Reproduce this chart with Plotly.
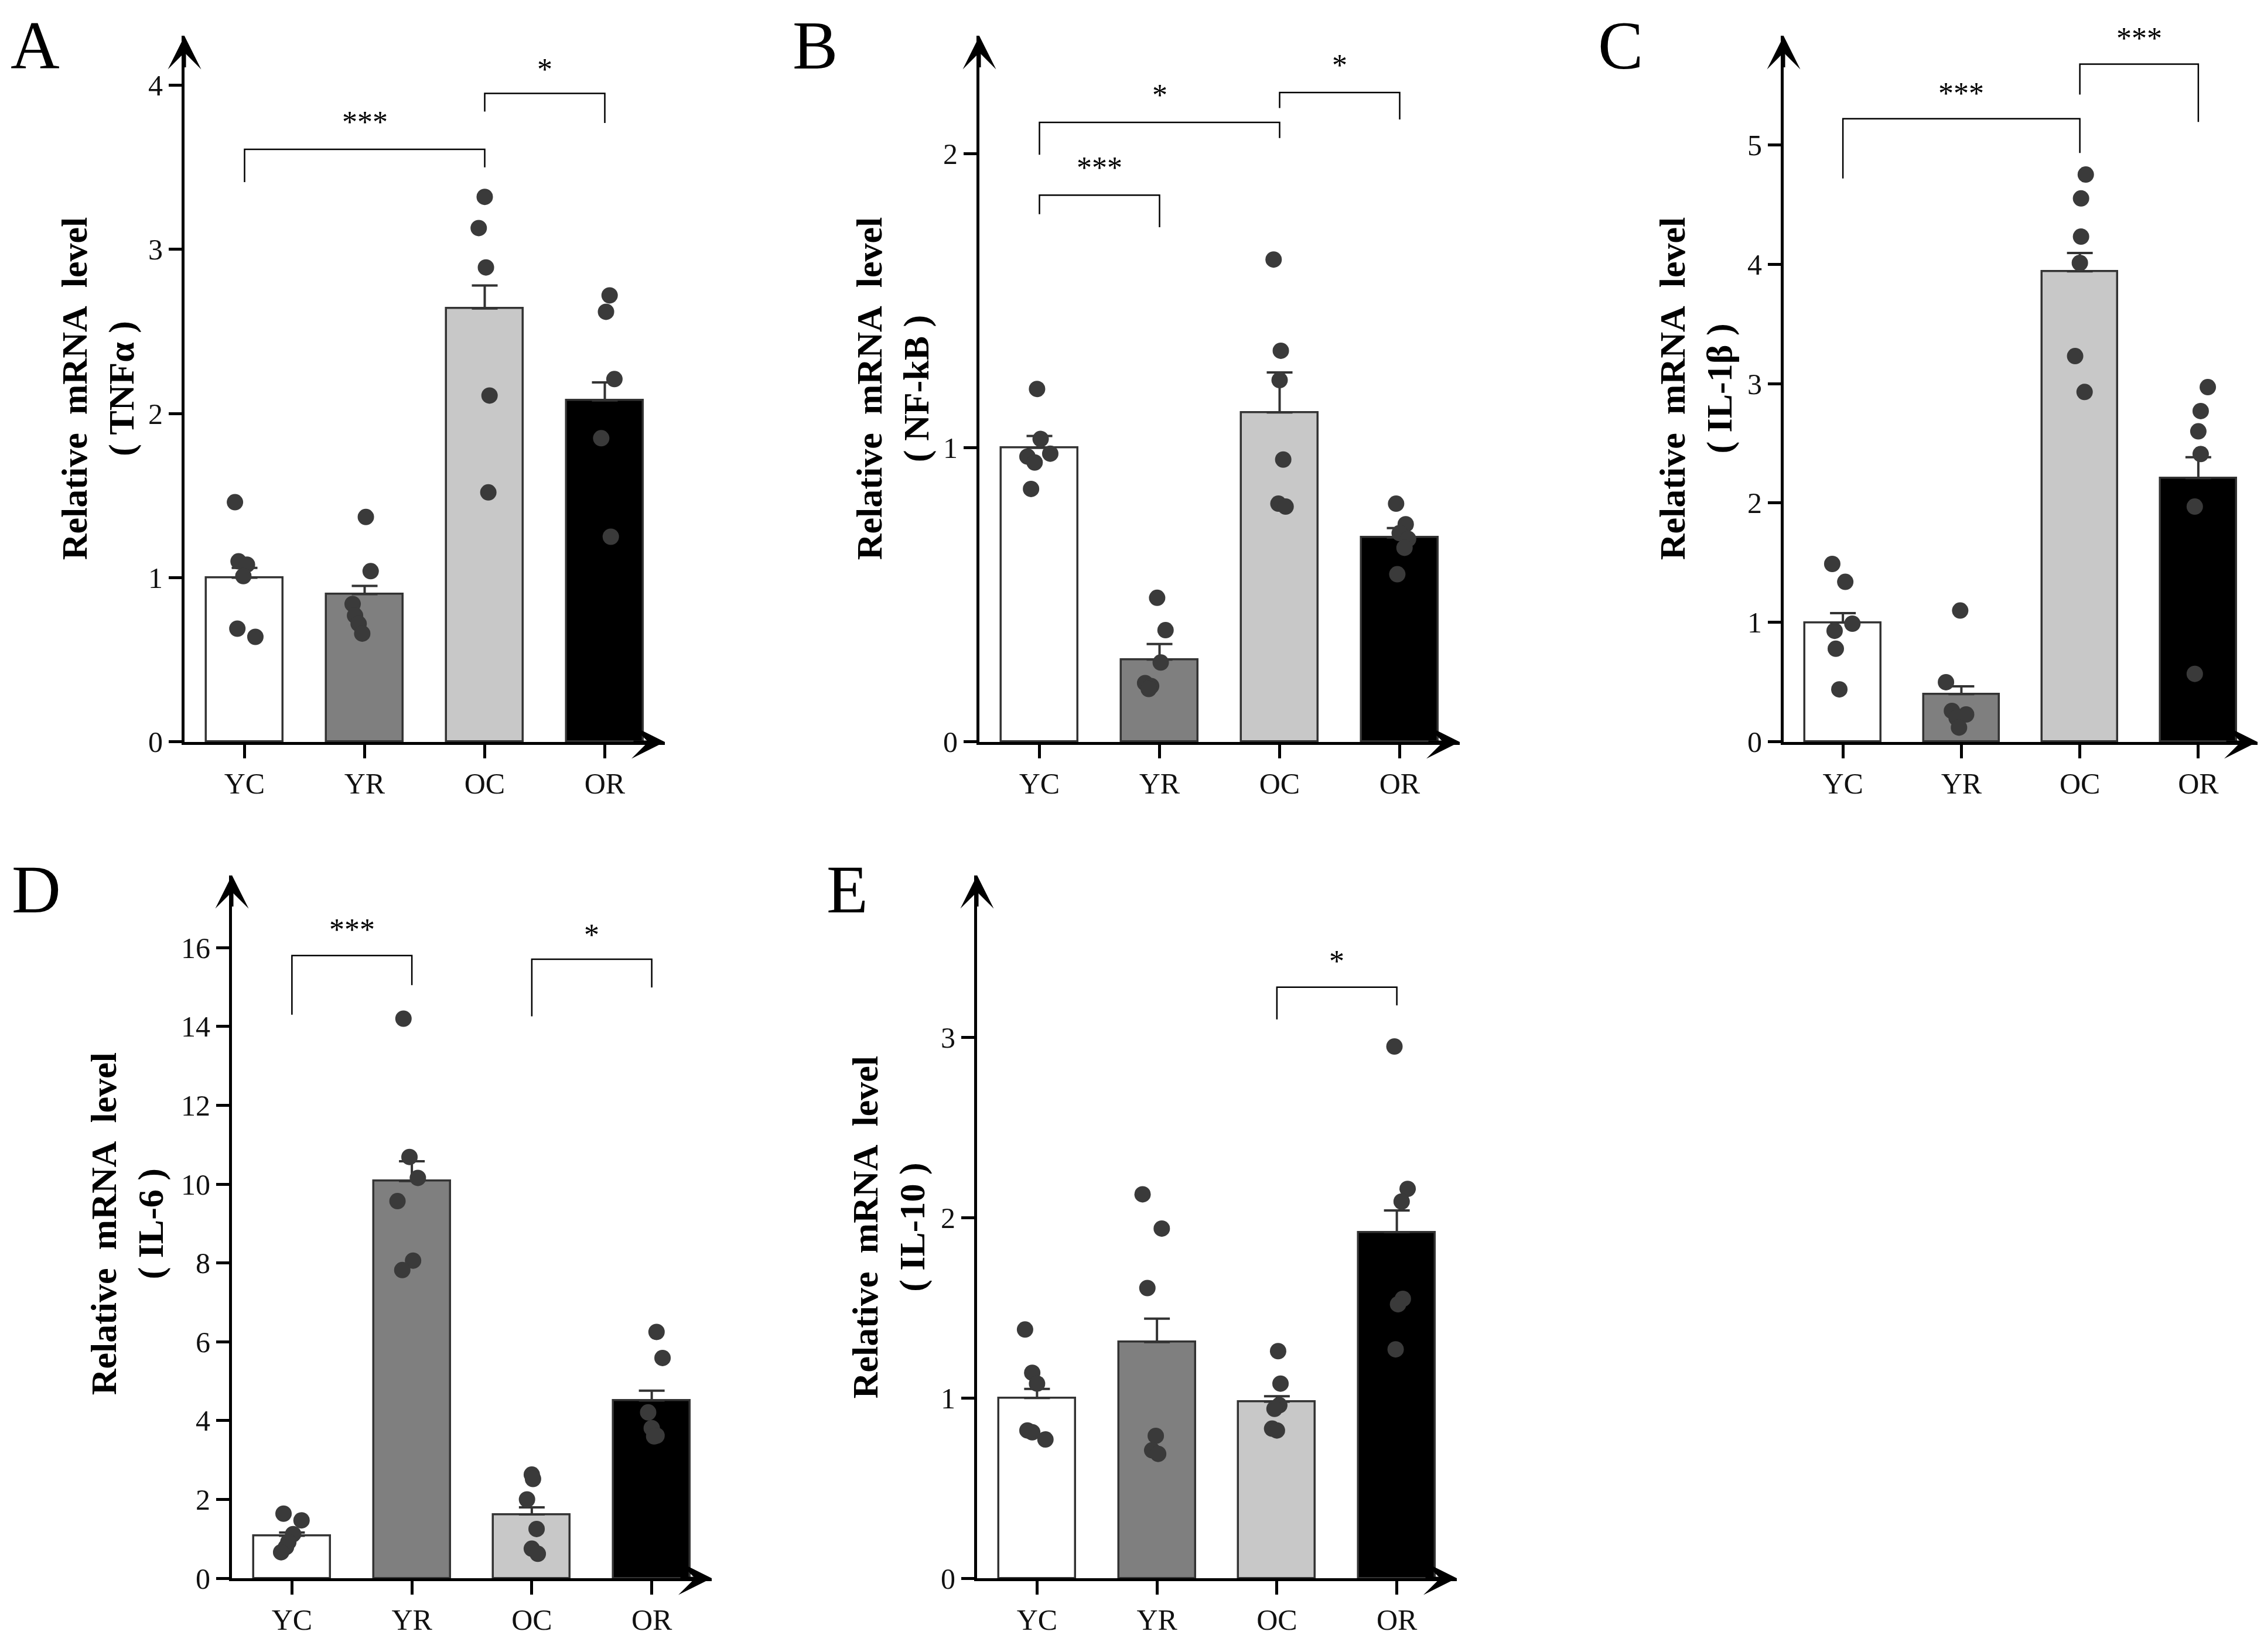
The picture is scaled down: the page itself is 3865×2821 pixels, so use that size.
import plotly.graph_objects as go

W, H = 3865, 2821

groups = ["YC", "YR", "OC", "OR"]
bar_colors = ["#ffffff", "#7f7f7f", "#c8c8c8", "#000000"]

# ---- panel A : TNFa
a_mean = [1.00, 0.90, 2.64, 2.08]
a_sem = [0.06, 0.05, 0.14, 0.11]
a_pts = [[1.46, 1.10, 1.08, 1.01, 0.69, 0.64],
         [1.37, 1.04, 0.84, 0.77, 0.72, 0.66],
         [3.32, 3.13, 2.89, 2.11, 1.52],
         [2.72, 2.62, 2.21, 1.85, 1.25]]
a_jit = [[-0.08, -0.05, 0.02, -0.01, -0.06, 0.09],
         [0.01, 0.05, -0.10, -0.08, -0.05, -0.02],
         [0.00, -0.05, 0.01, 0.04, 0.03],
         [0.04, 0.01, 0.08, -0.03, 0.05]]
a_sig = [(0, 2, 3.61, 3.41, 3.50, "***", 3.77),
         (2, 3, 3.95, 3.84, 3.77, "*", 4.09)]

# ---- panel B : NF-kB
b_mean = [1.00, 0.28, 1.12, 0.695]
b_sem = [0.04, 0.053, 0.136, 0.032]
b_pts = [[1.20, 1.03, 0.98, 0.97, 0.95, 0.86],
         [0.49, 0.38, 0.27, 0.20, 0.19, 0.18],
         [1.64, 1.33, 1.23, 0.96, 0.81, 0.80],
         [0.81, 0.74, 0.71, 0.69, 0.66, 0.57]]
b_jit = [[-0.02, 0.01, 0.09, -0.10, -0.04, -0.07],
         [-0.02, 0.05, 0.01, -0.12, -0.07, -0.09],
         [-0.05, 0.01, 0.00, 0.03, -0.01, 0.05],
         [-0.03, 0.05, 0.00, 0.07, 0.04, -0.02]]
b_sig = [(0, 2, 2.106, 1.996, 2.053, "*", 2.194),
         (2, 3, 2.208, 2.155, 2.116, "*", 2.296),
         (0, 1, 1.859, 1.794, 1.750, "***", 1.947)]

# ---- panel C : IL-1b
c_mean = [1.00, 0.40, 3.94, 2.21]
c_sem = [0.078, 0.065, 0.153, 0.174]
c_pts = [[1.49, 1.34, 0.99, 0.93, 0.78, 0.44],
         [1.10, 0.50, 0.26, 0.23, 0.20, 0.12],
         [4.75, 4.55, 4.23, 4.01, 3.23, 2.93],
         [2.97, 2.77, 2.60, 2.41, 1.97, 0.57]]
c_jit = [[-0.09, 0.02, 0.08, -0.07, -0.06, -0.03],
         [-0.01, -0.13, -0.08, 0.04, -0.04, -0.02],
         [0.05, 0.01, 0.01, 0.00, -0.04, 0.04],
         [0.08, 0.02, 0.00, 0.02, -0.03, -0.03]]
c_sig = [(0, 2, 5.217, 4.717, 4.93, "***", 5.42),
         (2, 3, 5.674, 5.42, 5.19, "***", 5.878)]

# ---- panel D : IL-6
d_mean = [1.08, 10.08, 1.62, 4.51]
d_sem = [0.08, 0.50, 0.18, 0.25]
d_pts = [[1.64, 1.47, 1.12, 0.92, 0.79, 0.66],
         [14.2, 10.69, 10.16, 9.57, 8.06, 7.82],
         [2.63, 2.52, 2.00, 1.25, 0.75, 0.62],
         [6.25, 5.59, 4.21, 3.81, 3.62, 3.60]]
d_jit = [[-0.07, 0.08, 0.01, -0.03, -0.05, -0.09],
         [-0.07, -0.02, 0.05, -0.12, 0.01, -0.08],
         [0.00, 0.01, -0.04, 0.04, 0.00, 0.05],
         [0.04, 0.09, -0.03, 0.00, 0.04, 0.02]]
d_sig = [(0, 1, 15.80, 14.30, 15.05, "***", 16.43),
         (2, 3, 15.71, 14.26, 14.99, "*", 16.30)]

# ---- panel E : IL-10
e_mean = [1.00, 1.31, 0.98, 1.92]
e_sem = [0.05, 0.13, 0.03, 0.12]
e_pts = [[1.38, 1.14, 1.08, 0.82, 0.81, 0.77],
         [2.13, 1.94, 1.61, 0.79, 0.71, 0.69],
         [1.26, 1.08, 0.96, 0.94, 0.83, 0.82],
         [2.95, 2.16, 2.09, 1.55, 1.52, 1.27]]
e_jit = [[-0.10, -0.04, 0.00, -0.08, -0.04, 0.07],
         [-0.12, 0.04, -0.08, -0.01, -0.04, 0.01],
         [0.01, 0.03, 0.02, -0.02, -0.04, 0.00],
         [-0.02, 0.09, 0.04, 0.05, 0.01, -0.01]]
e_sig = [(2, 3, 3.279, 3.10, 3.178, "*", 3.417)]

panels = [
    dict(letter="A", gene="TNFα", mean=a_mean, sem=a_sem, pts=a_pts, jit=a_jit, sig=a_sig, ymax=4.30, dtick=1),
    dict(letter="B", gene="NF-kB", mean=b_mean, sem=b_sem, pts=b_pts, jit=b_jit, sig=b_sig, ymax=2.40, dtick=1),
    dict(letter="C", gene="IL-1β", mean=c_mean, sem=c_sem, pts=c_pts, jit=c_jit, sig=c_sig, ymax=5.91, dtick=1),
    dict(letter="D", gene="IL-6", mean=d_mean, sem=d_sem, pts=d_pts, jit=d_jit, sig=d_sig, ymax=17.84, dtick=2),
    dict(letter="E", gene="IL-10", mean=e_mean, sem=e_sem, pts=e_pts, jit=e_jit, sig=e_sig, ymax=3.90, dtick=1),
]

# layout boxes in pixels: x from y-axis to arrow tip, y from zero line to arrow tip
boxes = [
    dict(x=(307, 1127), y=(1272, 54), title=(160, 663), letter=(52, 4)),
    dict(x=(1664, 2484), y=(1272, 54), title=(1517, 663), letter=(1383, 4)),
    dict(x=(3037, 3846), y=(1272, 54), title=(2888, 663), letter=(2758, 4)),
    dict(x=(388, 1207), y=(2715, 1502), title=(210, 2104), letter=(54, 1460)),
    dict(x=(1660, 2479), y=(2715, 1502), title=(1510, 2110), letter=(1438, 1460)),
]

SERIF = "Liberation Serif, Times New Roman, serif"
EDGE = "#333333"
DOT = "#3a3a3a"


def px(x):
    return x / W


def py(y):
    return 1 - y / H


fig = go.Figure()
annotations = []

for k, (p, b) in enumerate(zip(panels, boxes), start=1):
    xa = "x" if k == 1 else f"x{k}"
    ya = "y" if k == 1 else f"y{k}"

    fig.add_trace(go.Bar(
        x=list(range(4)), y=p["mean"], width=0.64,
        marker=dict(color=bar_colors, line=dict(color=EDGE, width=3.5)),
        error_y=dict(type="data", array=p["sem"], arrayminus=[0] * 4, symmetric=False,
                     color=EDGE, thickness=4, width=22),
        xaxis=xa, yaxis=ya, showlegend=False, hoverinfo="skip"))

    for i, (vals, jit) in enumerate(zip(p["pts"], p["jit"])):
        fig.add_trace(go.Scatter(
            x=[i + j for j in jit], y=vals, mode="markers",
            marker=dict(color=DOT, size=28, line=dict(width=0)),
            xaxis=xa, yaxis=ya, showlegend=False, hoverinfo="skip", cliponaxis=False))

    for (i, j, ytop, yl, yr, lab, ylab) in p["sig"]:
        fig.add_trace(go.Scatter(
            x=[i, i, j, j], y=[yl, ytop, ytop, yr], mode="lines",
            line=dict(color="black", width=2.5),
            xaxis=xa, yaxis=ya, showlegend=False, hoverinfo="skip", cliponaxis=False))
        annotations.append(dict(
            x=(i + j) / 2, y=ylab, xref=xa, yref=ya, text=lab, showarrow=False,
            font=dict(family=SERIF, size=52, color="black"),
            xanchor="center", yanchor="middle", yshift=2))

    xd = [px(b["x"][0]), px(b["x"][1])]
    yd = [py(b["y"][0]), py(b["y"][1])]
    axis_common = dict(showline=True, linewidth=5, linecolor="black",
                       ticks="outside", tickwidth=5, tickcolor="black",
                       showgrid=False, zeroline=False,
                       tickfont=dict(family=SERIF, size=50, color="#111111"))
    fig.layout["xaxis" if k == 1 else f"xaxis{k}"] = dict(
        domain=xd, range=[-0.5, 3.5], anchor=ya, tickvals=list(range(4)),
        ticktext=groups, ticklen=23, fixedrange=True, **axis_common)
    fig.layout["yaxis" if k == 1 else f"yaxis{k}"] = dict(
        domain=yd, range=[0, p["ymax"]], anchor=xa, dtick=p["dtick"], tick0=0,
        ticklen=22, fixedrange=True, **axis_common)

    # arrow heads on both axes
    annotations.append(dict(x=1, y=0, xref=f"{xa} domain", yref=f"{ya} domain", text="",
                            showarrow=True, arrowhead=3, arrowsize=1.9, arrowwidth=5,
                            arrowcolor="black", ax=-55, ay=0, standoff=0))
    annotations.append(dict(x=0, y=1, xref=f"{xa} domain", yref=f"{ya} domain", text="",
                            showarrow=True, arrowhead=3, arrowsize=1.9, arrowwidth=5,
                            arrowcolor="black", ax=0, ay=55, standoff=0))

    # y title
    nb = "\u00a0"
    annotations.append(dict(
        x=px(b["title"][0]), y=py(b["title"][1]), xref="paper", yref="paper",
        text=f"<b>Relative{nb}{nb}mRNA{nb}{nb}level</b><br><b>({nb}{p['gene']}{nb})</b>",
        textangle=-90, showarrow=False, xanchor="center", yanchor="middle",
        font=dict(family=SERIF, size=62, color="black")))

    # panel letter
    annotations.append(dict(
        x=px(b["letter"][0]), y=py(b["letter"][1]), xref="paper", yref="paper",
        text=p["letter"], showarrow=False, xanchor="center", yanchor="top",
        font=dict(family=SERIF, size=116, color="black")))

fig.update_layout(
    width=W, height=H,
    margin=dict(l=0, r=0, t=0, b=0),
    paper_bgcolor="white", plot_bgcolor="white",
    annotations=annotations,
    bargap=0,
)

fig.write_html("out.html")
